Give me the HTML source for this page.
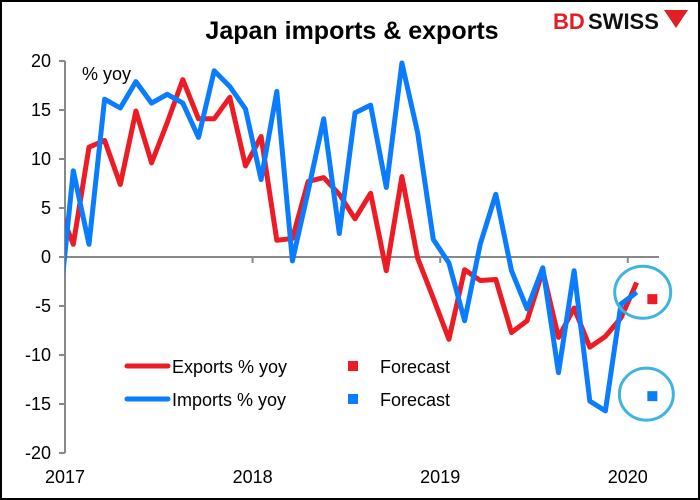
<!DOCTYPE html>
<html><head><meta charset="utf-8"><style>
html,body{margin:0;padding:0;background:#fff}
svg{display:block;font-family:"Liberation Sans",Arial,sans-serif}
</style></head><body>
<svg id="chart" width="700" height="500" viewBox="0 0 700 500">
<rect x="1" y="1" width="698" height="498" fill="#fff" stroke="#000" stroke-width="2"/>
<text x="352" y="39" text-anchor="middle" font-size="25" font-weight="bold">Japan imports &amp; exports</text>
<g>
<text x="553" y="29" font-size="22" font-weight="bold" fill="#e31e24">BD</text>
<text x="588" y="29" font-size="22" font-weight="bold" fill="#111">SWISS</text>
<polygon points="664,10 688,10 676,28" fill="#e31e24"/>
</g>
<g id="axes"></g>
<g id="series"></g>
<text x="82" y="80" font-size="18">% yoy</text>
<g>
<line x1="127" y1="366" x2="168" y2="366" stroke="#ed1c24" stroke-width="5" stroke-linecap="round"/>
<text x="172" y="373" font-size="18">Exports % yoy</text>
<rect x="348" y="361" width="10" height="10" fill="#ed1c24"/>
<text x="380" y="373" font-size="18">Forecast</text>
<line x1="127" y1="399" x2="168" y2="399" stroke="#0a7cff" stroke-width="5" stroke-linecap="round"/>
<text x="172" y="406" font-size="18">Imports % yoy</text>
<rect x="348" y="394" width="10" height="10" fill="#0a7cff"/>
<text x="380" y="406" font-size="18">Forecast</text>
</g>
</svg>
<script>
// Monthly data, Dec 2016 .. Jan 2020
const exportsYoy = [5.3,1.3,11.2,11.9,7.4,14.9,9.6,13.7,18.1,14.1,14.1,16.3,9.3,12.3,1.7,1.9,7.7,8.1,6.4,3.9,6.5,-1.4,8.2,-0.1,-4.2,-8.4,-1.3,-2.4,-2.3,-7.7,-6.5,-1.4,-8.2,-5.2,-9.2,-8.1,-6.2,-2.6];
const importsYoy = [-7,8.8,1.3,16.1,15.2,17.9,15.7,16.6,15.7,12.2,19.0,17.4,15.1,7.9,16.9,-0.4,6.7,14.1,2.4,14.7,15.5,7.1,19.8,12.7,1.8,-0.6,-6.5,1.3,6.4,-1.4,-5.3,-1.1,-11.8,-1.4,-14.7,-15.7,-4.8,-3.6];
const exportsForecast = [-4.3];
const importsForecast = [-14.2];
const yTicks = [20,15,10,5,0,-5,-10,-15,-20];
const yearLabels = ["2017","2018","2019","2020"];

const NS = "http://www.w3.org/2000/svg";
const axes = document.getElementById("axes");
const series = document.getElementById("series");
function yS(v){ return 257 - v*9.8; }
function xS(i){ return 57.65 + i*15.65; } // index 0 = Dec 2016
function xYear(k){ return 65 + k*187.6; }
function mk(tag, attrs, parent){ const e=document.createElementNS(NS,tag); for(const k in attrs) e.setAttribute(k,attrs[k]); parent.appendChild(e); return e; }

// y axis
const yAxis = mk("line",{x1:65,y1:yS(20),x2:65,y2:yS(-20),stroke:"#888","stroke-width":2},axes);


yTicks.forEach(v=>{
  const t = mk("line",{x1:59,y1:yS(v),x2:65,y2:yS(v),stroke:"#888","stroke-width":2},axes);
  
  
  const l = mk("text",{x:51,y:yS(v)+6,"text-anchor":"end","font-size":18},axes);
  l.textContent = v;
  
  
});
// x axis at zero
const xAxis = mk("line",{x1:65,y1:yS(0),x2:659,y2:yS(0),stroke:"#888","stroke-width":2},axes);


yearLabels.forEach((s,k)=>{
  const t = mk("line",{x1:xYear(k),y1:yS(0),x2:xYear(k),y2:yS(0)+6,stroke:"#888","stroke-width":2},axes);
  
  
  const l = mk("text",{x:xYear(k),y:483,"text-anchor":"middle","font-size":18},axes);
  l.textContent = s;
  
  
});

// clip so line begins at the y axis
const defs = mk("defs",{},series);
const cp = mk("clipPath",{id:"plotclip"},defs);
mk("rect",{x:65,y:0,width:640,height:500},cp);

function drawLine(arr,color,name){
  const d = arr.map((v,i)=>(i?"L":"M")+xS(i).toFixed(1)+","+yS(v).toFixed(1)).join(" ");
  const p = mk("path",{d:d,fill:"none",stroke:color,"stroke-width":5,"stroke-linejoin":"round","clip-path":"url(#plotclip)"},series);
  
  
}
drawLine(exportsYoy,"#ed1c24","exports-line");
drawLine(importsYoy,"#0a7cff","imports-line");

function drawForecast(arr,color,name){
  arr.forEach((v,j)=>{
    const i = exportsYoy.length + j;
    const r = mk("rect",{x:xS(i)-5,y:yS(v)-5,width:10,height:10,fill:color},series);
    
    
  });
}
drawForecast(exportsForecast,"#ed1c24","exports-forecast-marker");
drawForecast(importsForecast,"#0a7cff","imports-forecast-marker");

// highlight circles
const c1 = mk("ellipse",{cx:xS(37)+6,cy:yS(-3.6),rx:28,ry:26,fill:"none",stroke:"#3fb4e0","stroke-width":3},series);


const c2 = mk("ellipse",{cx:xS(38)-6,cy:yS(importsForecast[0])-2,rx:27,ry:26,fill:"none",stroke:"#3fb4e0","stroke-width":3},series);


</script>
</body></html>
